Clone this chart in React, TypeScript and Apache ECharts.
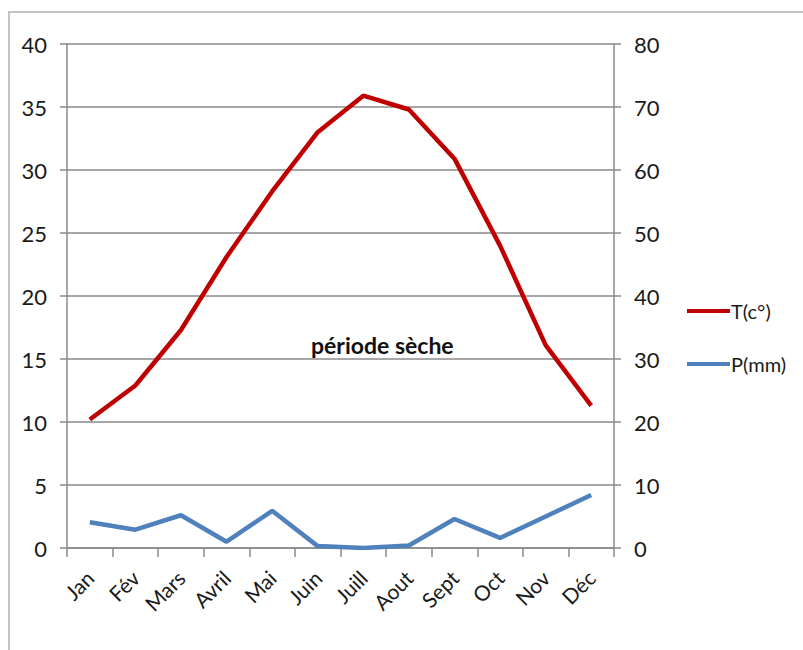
import React, { useEffect, useRef } from "react";
import * as echarts from "echarts";

const months = ["Jan", "Fév", "Mars", "Avril", "Mai", "Juin", "Juill", "Aout", "Sept", "Oct", "Nov", "Déc"];
const temperature = [10.2, 12.9, 17.3, 23.1, 28.3, 33.0, 35.9, 34.8, 30.9, 24.0, 16.1, 11.3];
const precipitation = [4.1, 2.9, 5.2, 1.0, 5.9, 0.3, 0.0, 0.4, 4.6, 1.6, 5.0, 8.4];
const leftTicks = { min: 0, max: 40, interval: 5 };
const rightTicks = { min: 0, max: 80, interval: 10 };

const FONT = "Lato, 'Open Sans', sans-serif";

export default function App() {
  const ref = useRef<HTMLDivElement>(null);
  useEffect(() => {
    if (!ref.current) return;
    const chart = echarts.init(ref.current, null, { renderer: "svg" });
    const gray = "#8a8a8a";
    chart.setOption({
      animation: false,
      backgroundColor: "#ffffff",
      textStyle: { fontFamily: FONT },
      grid: { left: 67, right: 189, top: 44, bottom: 102, containLabel: false },
      legend: {
        orient: "vertical",
        left: 682,
        top: 296,
        itemWidth: 43,
        itemHeight: 4,
        itemGap: 33,
        icon: "rect",
        textStyle: { fontFamily: FONT, fontSize: 20, color: "#1a1a1a", padding: [0, 0, 0, -4] },
        data: ["T(c°)", "P(mm)"],
      },
      xAxis: {
        type: "category",
        data: months,
        boundaryGap: true,
        axisLine: { show: true, lineStyle: { color: gray, width: 1.5 } },
        axisTick: { show: true, length: 9, lineStyle: { color: gray, width: 1.5 } },
        axisLabel: { rotate: 45, fontSize: 21, color: "#1a1a1a", margin: 26, fontFamily: FONT, interval: 0 },
      },
      yAxis: [
        {
          type: "value",
          position: "left",
          min: leftTicks.min,
          max: leftTicks.max,
          interval: leftTicks.interval,
          axisLine: { show: true, lineStyle: { color: gray, width: 1.5 } },
          axisTick: { show: true, length: 7, lineStyle: { color: gray, width: 1.5 } },
          axisLabel: { fontSize: 22, color: "#1a1a1a", margin: 20, fontFamily: FONT },
          splitLine: { show: true, lineStyle: { color: gray, width: 1.5 } },
        },
        {
          type: "value",
          position: "right",
          min: rightTicks.min,
          max: rightTicks.max,
          interval: rightTicks.interval,
          axisLine: { show: true, lineStyle: { color: gray, width: 1.5 } },
          axisTick: { show: true, length: 7, lineStyle: { color: gray, width: 1.5 } },
          axisLabel: { fontSize: 22, color: "#1a1a1a", margin: 20, fontFamily: FONT },
          splitLine: { show: false },
        },
      ],
      series: [
        {
          name: "T(c°)",
          type: "line",
          yAxisIndex: 0,
          data: temperature,
          symbol: "none",
          color: "#c00000",
          lineStyle: { color: "#c00000", width: 4.5 },
          z: 3,
        },
        {
          name: "P(mm)",
          type: "line",
          yAxisIndex: 1,
          data: precipitation,
          symbol: "none",
          color: "#4f81bd",
          lineStyle: { color: "#4f81bd", width: 4.5 },
          z: 2,
        },
      ],
      graphic: [
        {
          type: "rect",
          shape: { x: 9, y: 12, width: 900, height: 700 },
          style: { fill: "none", stroke: "#c4c4c4", lineWidth: 2 },
          silent: true,
          z: -10,
        },
        {
          type: "text",
          left: 311,
          top: 333,
          style: { text: "période sèche", font: `bold 23px ${FONT}`, fill: "#111" },
          z: 10,
        },
      ],
    });
    return () => chart.dispose();
  }, []);
  return <div ref={ref} style={{ position: "fixed", left: 0, top: 0, width: 803, height: 650 }} />;
}
